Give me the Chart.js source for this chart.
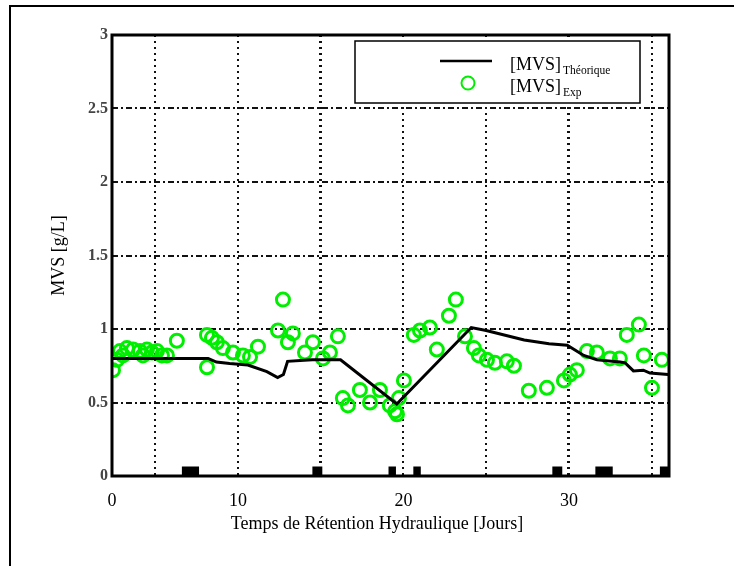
<!DOCTYPE html>
<html>
<head>
<meta charset="utf-8">
<script src="https://cdn.jsdelivr.net/npm/chart.js@4/dist/chart.umd.min.js"></script>
<style>
  html, body { margin: 0; padding: 0; background: #fff; }
  #wrap { width: 734px; height: 566px; position: relative; }
</style>
</head>
<body>
<div id="wrap"><canvas id="chart" width="734" height="566"></canvas></div>
<script>
// Theoretical curve [MVS]Théorique
const theoX = [2.4, 8.2, 8.7, 9.5, 10.6, 11.75, 12.4, 12.75, 13.0, 14.5, 16.2, 19.6, 24.1, 25.0, 27.3, 28.8, 29.9, 30.9, 31.7, 33.1, 33.4, 33.9, 34.5, 34.9, 36.0];
const theoY = [0.80, 0.80, 0.775, 0.765, 0.755, 0.71, 0.67, 0.69, 0.78, 0.79, 0.79, 0.49, 1.01, 0.99, 0.925, 0.90, 0.89, 0.82, 0.79, 0.775, 0.77, 0.715, 0.72, 0.70, 0.69];

// Experimental points [MVS]Exp
const expX = [2.45, 2.69, 2.87, 3.05, 3.29, 3.66, 4.08, 4.26, 4.5, 4.8, 5.11, 5.41, 5.71, 6.31,
  8.13, 8.43, 8.73, 8.13, 9.09, 9.7, 10.3, 10.73, 11.21, 12.42, 12.72, 13.02, 13.32, 14.05,
  14.53, 15.14, 15.56, 16.04, 16.34, 16.65, 17.37, 17.98, 18.58, 19.18, 19.49, 19.61, 19.73,
  20.03, 20.63, 21.0, 21.6, 22.02, 22.75, 23.17, 23.72, 24.26, 24.56, 25.05, 25.53, 26.25,
  26.68, 27.58, 28.67, 29.7, 30.06, 30.48, 31.09, 31.69, 32.48, 33.08, 33.5, 34.23, 34.53,
  35.02, 35.62];
const expY = [0.72, 0.79, 0.85, 0.82, 0.87, 0.86, 0.85, 0.82, 0.86, 0.84, 0.85, 0.82, 0.82, 0.92,
  0.96, 0.94, 0.91, 0.74, 0.87, 0.84, 0.82, 0.81, 0.88, 0.99, 1.20, 0.91, 0.97, 0.84,
  0.91, 0.80, 0.84, 0.95, 0.53, 0.48, 0.585, 0.50, 0.585, 0.48, 0.44, 0.42, 0.53,
  0.65, 0.96, 0.99, 1.01, 0.86, 1.09, 1.20, 0.95, 0.87, 0.82, 0.79, 0.77, 0.78,
  0.75, 0.58, 0.60, 0.65, 0.69, 0.72, 0.85, 0.84, 0.80, 0.80, 0.96, 1.03, 0.82,
  0.60, 0.79];

// black blocks along the time axis
const blockStart = [6.6, 14.5, 19.1, 20.6, 29.0, 31.6, 35.5];
const blockEnd = [7.65, 15.1, 19.55, 21.05, 29.6, 32.65, 36.05];
const blockH = 0.065;

// axes
const X_MIN = 2.39, X_MAX = 36.05;
const xGridPos = [5, 10, 15, 20, 25, 30, 35];
const xTickPos = [X_MIN, 10, 20, 30];
const xTickText = ['0', '10', '20', '30'];
const yTickPos = [0, 0.5, 1, 1.5, 2, 2.5, 3];
const yTickText = ['0', '0.5', '1', '1.5', '2', '2.5', '3'];

const SERIF = '"Liberation Serif", "DejaVu Serif", serif';
const GREEN = '#00ee00';

const theoData = theoX.map((x, i) => ({ x: x, y: theoY[i] }));
const expData = expX.map((x, i) => ({ x: x, y: expY[i] }));
const blockData = [];
blockStart.forEach((s, i) => {
  blockData.push({ x: s, y: 0 }, { x: s, y: blockH }, { x: blockEnd[i], y: blockH }, { x: blockEnd[i], y: 0 });
});

// frame, legend, x title, page border
const decor = {
  id: 'decor',
  afterDraw(chart) {
    const c = chart.ctx;
    const a = chart.chartArea;
    c.save();
    // page border (left + top)
    c.strokeStyle = '#000';
    c.lineWidth = 2;
    c.beginPath();
    c.moveTo(10, 566);
    c.lineTo(10, 6);
    c.lineTo(734, 6);
    c.stroke();

    // plot frame
    c.lineWidth = 3;
    c.strokeStyle = '#000';
    c.strokeRect(a.left, a.top, a.right - a.left, a.bottom - a.top);

    // legend box
    c.fillStyle = '#fff';
    c.fillRect(355, 41, 285, 62);
    c.lineWidth = 1.5;
    c.strokeRect(355, 41, 285, 62);
    c.lineWidth = 2.5;
    c.beginPath();
    c.moveTo(440, 61);
    c.lineTo(492, 61);
    c.stroke();
    c.strokeStyle = GREEN;
    c.lineWidth = 2;
    c.beginPath();
    c.arc(468, 83, 6.5, 0, Math.PI * 2);
    c.stroke();
    c.fillStyle = '#000';
    c.textBaseline = 'alphabetic';
    c.textAlign = 'left';
    c.font = '18px ' + SERIF;
    c.fillText('[MVS]', 510, 70);
    c.fillText('[MVS]', 510, 92);
    c.font = '11.5px ' + SERIF;
    c.fillText('Théorique', 563, 74);
    c.fillText('Exp', 563, 96);

    // x title
    c.font = '18px ' + SERIF;
    c.textAlign = 'center';
    c.fillText('Temps de Rétention Hydraulique [Jours]', 377, 529);
    c.restore();
  }
};

new Chart(document.getElementById('chart'), {
  type: 'scatter',
  data: {
    datasets: [
      {
        label: '[MVS]Théorique',
        data: theoData,
        showLine: true,
        borderColor: '#000',
        borderWidth: 3,
        pointRadius: 0,
        tension: 0,
        order: 0
      },
      {
        label: '[MVS]Exp',
        data: expData,
        showLine: false,
        pointRadius: 6.5,
        pointBorderWidth: 3,
        pointBorderColor: GREEN,
        pointBackgroundColor: 'rgba(0,0,0,0)',
        order: 1
      },
      {
        label: 'blocks',
        data: blockData,
        showLine: true,
        borderWidth: 0,
        borderColor: 'rgba(0,0,0,0)',
        backgroundColor: '#000',
        fill: 'origin',
        pointRadius: 0,
        order: 2
      }
    ]
  },
  options: {
    responsive: false,
    animation: false,
    events: [],
    layout: { padding: { left: 0, top: 35, right: 65, bottom: 0 } },
    plugins: { legend: { display: false }, tooltip: { enabled: false } },
    scales: {
      x: {
        type: 'linear',
        min: X_MIN,
        max: X_MAX,
        afterBuildTicks(scale) {
          const vals = [...new Set([...xTickPos, ...xGridPos])].sort((p, q) => p - q);
          scale.ticks = vals.map(v => ({ value: v }));
        },
        afterFit(scale) { scale.height = 90; },
        border: { display: false, dash: [2, 4] },
        grid: {
          drawTicks: false,
          color: ctx => xGridPos.includes(ctx.tick.value) ? '#111' : 'rgba(0,0,0,0)',
          lineWidth: ctx => (ctx.tick.value === 15 || ctx.tick.value === 30) ? 3 : 2
        },
        ticks: {
          autoSkip: false,
          maxRotation: 0,
          padding: 14,
          color: '#000',
          font: { family: SERIF, size: 18 },
          callback: v => {
            const i = xTickPos.indexOf(v);
            return i >= 0 ? xTickText[i] : '';
          }
        }
      },
      y: {
        min: 0,
        max: 3,
        afterBuildTicks(scale) { scale.ticks = yTickPos.map(v => ({ value: v })); },
        afterFit(scale) { scale.width = 112; },
        border: { display: false, dash: [6, 3, 2, 3] },
        grid: {
          drawTicks: false,
          color: ctx => (ctx.tick.value > 0 && ctx.tick.value < 3) ? '#111' : 'rgba(0,0,0,0)',
          lineWidth: 2
        },
        ticks: {
          padding: 4,
          color: '#444',
          font: { family: SERIF, size: 16, weight: 'bold' },
          callback: v => {
            const i = yTickPos.indexOf(v);
            return i >= 0 ? yTickText[i] : '';
          }
        },
        title: {
          display: true,
          text: 'MVS [g/L]',
          color: '#000',
          font: { family: SERIF, size: 18 },
          padding: { top: 48, bottom: 0 }
        }
      }
    }
  },
  plugins: [decor]
});
</script>
</body>
</html>
